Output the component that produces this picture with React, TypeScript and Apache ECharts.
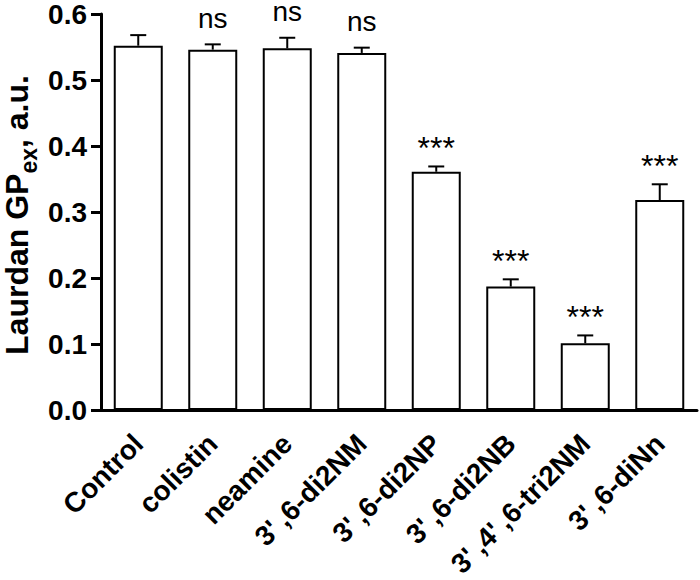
import React, { useEffect, useRef } from "react";
import * as echarts from "echarts";

const categories = [
  "Control",
  "colistin",
  "neamine",
  "3'\u2009,6-di2NM",
  "3'\u2009,6-di2NP",
  "3'\u2009,6-di2NB",
  "3'\u2009,4'\u2009,6-tri2NM",
  "3'\u2009,6-diNn",
];
const means = [0.552, 0.546, 0.548, 0.541, 0.361, 0.187, 0.101, 0.318];
const errors = [0.016, 0.008, 0.016, 0.008, 0.008, 0.011, 0.012, 0.024];
const significance = ["", "ns", "ns", "ns", "***", "***", "***", "***"];
const yTicks = [0, 0.1, 0.2, 0.3, 0.4, 0.5, 0.6];

const FONT = "'Liberation Sans', Arial, Helvetica, sans-serif";

export default function App() {
  const ref = useRef<HTMLDivElement>(null);
  useEffect(() => {
    document.body.style.margin = "0";
    if (!ref.current) return;
    const chart = echarts.init(ref.current, null, { renderer: "svg" });
    const errData = means.map((m, i) => [i, m, errors[i]]);
    const option: any = {
      animation: false,
      backgroundColor: "#ffffff",
      grid: {
        left: 101,
        right: 3,
        top: 14,
        bottom: 170,
        containLabel: false,
        outerBoundsMode: "none",
      },
      xAxis: {
        type: "category",
        data: categories,
        axisLine: { lineStyle: { color: "#000", width: 3 } },
        axisTick: { alignWithLabel: true, length: 9, lineStyle: { color: "#000", width: 3 } },
        axisLabel: {
          rotate: 45,
          margin: 29,
          interval: 0,
          color: "#000",
          fontFamily: FONT,
          fontWeight: "bold",
          fontSize: 28,
          lineHeight: 22,
        },
      },
      yAxis: {
        type: "value",
        min: yTicks[0],
        max: yTicks[yTicks.length - 1],
        interval: 0.1,
        splitLine: { show: false },
        axisLine: { show: true, lineStyle: { color: "#000", width: 3 } },
        axisTick: { show: true, length: 10, lineStyle: { color: "#000", width: 3 } },
        axisLabel: {
          margin: 14,
          color: "#000",
          fontFamily: FONT,
          fontWeight: "bold",
          fontSize: 28,
          lineHeight: 24,
          formatter: (v: number) => v.toFixed(1),
        },
      },
      graphic: [
        {
          type: "text",
          x: 17,
          y: 215,
          rotation: Math.PI / 2,
          style: {
            text: "{a|Laurdan GP}{b|ex}{a|, a.u.}",
            align: "center",
            verticalAlign: "middle",
            fill: "#000",
            rich: {
              a: {
                fontFamily: FONT,
                fontWeight: "bold",
                fontSize: 32,
                lineHeight: 32,
                verticalAlign: "top",
                fill: "#000",
              },
              b: {
                fontFamily: FONT,
                fontWeight: "bold",
                fontSize: 23,
                lineHeight: 22,
                padding: [16, 0, 0, 0],
                verticalAlign: "top",
                fill: "#000",
              },
            },
          },
        },
      ],
      series: [
        {
          type: "bar",
          data: means,
          barWidth: 49,
          itemStyle: { color: "#fff", borderColor: "#000", borderWidth: 2 },
          z: 2,
        },
        {
          type: "custom",
          data: errData,
          z: 3,
          renderItem: (params: any, api: any) => {
            const x = api.value(0);
            const y = api.value(1);
            const e = api.value(2);
            const p = api.coord([x, y]);
            const c = api.coord([x, y + e]);
            const label = significance[params.dataIndex];
            const children: any[] = [
              {
                type: "line",
                shape: { x1: p[0], y1: p[1], x2: c[0], y2: c[1] },
                style: { stroke: "#000", lineWidth: 2 },
              },
              {
                type: "line",
                shape: { x1: c[0] - 8, y1: c[1], x2: c[0] + 8, y2: c[1] },
                style: { stroke: "#000", lineWidth: 2 },
              },
            ];
            if (label) {
              const isNs = label === "ns";
              children.push({
                type: "text",
                x: c[0],
                y: c[1] - (isNs ? 26 : 18),
                style: {
                  text: label,
                  align: "center",
                  verticalAlign: "middle",
                  fontFamily: FONT,
                  fontSize: isNs ? 28 : 32,
                  lineHeight: 18,
                  fill: "#000",
                },
              });
            }
            return { type: "group", children };
          },
        },
      ],
    };
    chart.setOption(option);
    return () => chart.dispose();
  }, []);
  return <div ref={ref} style={{ width: 700, height: 580 }} />;
}
